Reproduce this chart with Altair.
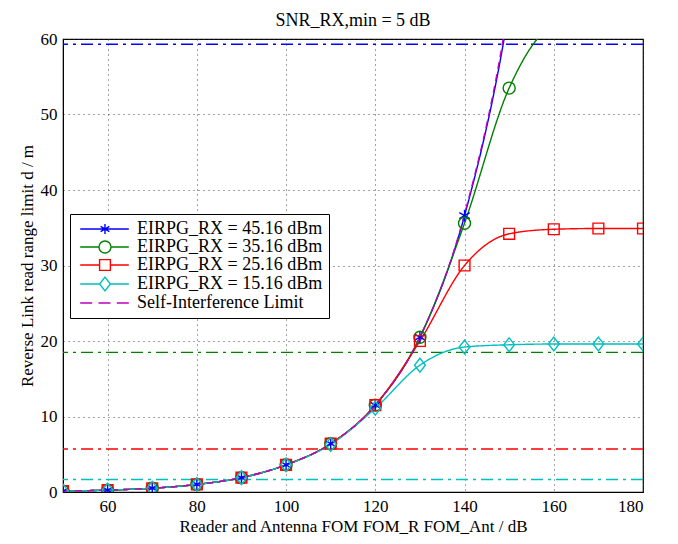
import altair as alt
import pandas as pd

# ---- data ----
fom = [50, 60, 70, 80, 90, 100, 110, 120, 130, 140, 150, 160, 170, 180]
d_45 = [0.12, 0.25, 0.5, 1.0, 1.9, 3.6, 6.4, 11.5, 20.5, 36.6, 64.0, 110.0, 190.0, 300.0]
d_35 = [0.12, 0.25, 0.5, 1.0, 1.9, 3.6, 6.4, 11.5, 20.5, 35.6, 53.5, 61.8, 63.0, 63.2]
d_25 = [0.12, 0.25, 0.5, 1.0, 1.9, 3.6, 6.4, 11.5, 20.0, 30.0, 34.2, 34.8, 34.9, 34.9]
d_15 = [0.12, 0.25, 0.5, 1.0, 1.9, 3.6, 6.3, 11.1, 16.8, 19.2, 19.5, 19.6, 19.6, 19.6]
d_si = [0.12, 0.25, 0.5, 1.0, 1.9, 3.6, 6.4, 11.5, 20.5, 36.8, 65.0, 115.0, 205.0, 365.0]

series = [
    "EIRPG_RX = 45.16 dBm",
    "EIRPG_RX = 35.16 dBm",
    "EIRPG_RX = 25.16 dBm",
    "EIRPG_RX = 15.16 dBm",
    "Self-Interference Limit",
]
colors = ["#0000ff", "#008000", "#ff0000", "#00bfbf", "#bf00bf"]
limits = [59.3, 18.5, 5.7, 1.65]

rows = []
for name, vals in zip(series, [d_45, d_35, d_25, d_15, d_si]):
    for f, v in zip(fom, vals):
        rows.append({"series": name, "fom": f, "d": v})
df = pd.DataFrame(rows)
lim_df = pd.DataFrame({"series": series[:4], "limit": limits})

# marker shapes (chart) and legend glyphs (line + marker)
mark_paths = [
    "M0,-1L0,1M-0.87,-0.5L0.87,0.5M-0.87,0.5L0.87,-0.5",
    "M1,0A1,1 0 1,1 -1,0A1,1 0 1,1 1,0",
    "M-0.9,-0.9H0.9V0.9H-0.9Z",
    "M0,-1.15L0.9,0L0,1.15L-0.9,0Z",
    "M0,0",
]
legend_paths = [
    "M-0.8,0L7.3,0M3.33,-0.85L3.33,0.85M2.6,-0.42L4.06,0.42M2.6,0.42L4.06,-0.42",
    "M-0.8,0L2.33,0M4.33,0L7.3,0M4.33,0A1,1 0 1,1 2.33,0A1,1 0 1,1 4.33,0",
    "M-0.8,0L2.43,0M4.23,0L7.3,0M2.43,-0.9H4.23V0.9H2.43Z",
    "M-0.8,0L2.43,0M4.23,0L7.3,0M3.33,-1.15L4.23,0L3.33,1.15L2.43,0Z",
    "M-0.8,0L1.2,0M2.25,0L4.25,0M5.3,0L7.3,0",
]

x_enc = alt.X("fom:Q", scale=alt.Scale(domain=[50, 180], nice=False),
              axis=alt.Axis(values=[60, 80, 100, 120, 140, 160, 180],
                            title="Reader and Antenna FOM  FOM_R FOM_Ant / dB"))
y_enc = alt.Y("d:Q", scale=alt.Scale(domain=[0, 60], nice=False),
              axis=alt.Axis(values=[0, 10, 20, 30, 40, 50, 60],
                            title="Reverse Link read range limit d / m"))
color_scale = alt.Scale(domain=series, range=colors)

lines = alt.Chart(df).mark_line(clip=True, interpolate="monotone", strokeWidth=1.4).encode(
    x=x_enc, y=y_enc,
    color=alt.Color("series:N", scale=color_scale, legend=None, sort=series),
    strokeDash=alt.StrokeDash("series:N", scale=alt.Scale(
        domain=series, range=[[1, 0], [1, 0], [1, 0], [1, 0], [7, 5]]), legend=None),
)

points = alt.Chart(df).transform_filter(
    alt.datum.series != "Self-Interference Limit"
).mark_point(clip=True, filled=False, size=144, strokeWidth=1.4, opacity=1).encode(
    x=x_enc, y=y_enc,
    color=alt.Color("series:N", scale=color_scale, legend=None),
    shape=alt.Shape("series:N", scale=alt.Scale(domain=series, range=mark_paths), legend=None),
)

rules = alt.Chart(lim_df).mark_rule(strokeWidth=1.4, strokeDash=[12, 5, 3, 5]).encode(
    y=alt.Y("limit:Q", scale=alt.Scale(domain=[0, 60], nice=False)),
    color=alt.Color("series:N", scale=color_scale, legend=None),
)

legend_layer = alt.Chart(df).transform_filter("datum.d < -1000").mark_point(
    filled=False, size=144, strokeWidth=1.4, opacity=1
).encode(
    x=x_enc, y=y_enc,
    color=alt.Color("series:N", scale=color_scale, legend=alt.Legend(
        title=None, orient="none", legendX=7, legendY=175,
        symbolSize=144, symbolStrokeWidth=1.4, labelOffset=43,
        labelFont="Liberation Serif", labelFontSize=18, labelColor="black",
        fillColor="white", strokeColor="black", padding=6, rowPadding=0,
        labelLimit=400)),
    shape=alt.Shape("series:N", scale=alt.Scale(domain=series, range=legend_paths),
                    legend=alt.Legend(title=None, orient="none", legendX=7, legendY=175)),
)

chart = alt.layer(rules, lines, points, legend_layer).resolve_scale(
    color="independent", shape="independent"
).properties(
    width=580, height=453,
    title=alt.TitleParams("SNR_RX,min = 5 dB", font="Liberation Serif", fontSize=18,
                          fontWeight="normal", color="black", offset=0),
    padding={"left": 10, "top": 4, "right": 5, "bottom": 0},
).configure_view(stroke="black", strokeWidth=1.2).configure_axis(
    labelFont="Liberation Serif", labelFontSize=17, labelColor="black",
    titleFont="Liberation Serif", titleFontSize=17, titleFontWeight="normal", titleColor="black",
    grid=True, gridDash=[1, 4], gridColor="#333333", gridOpacity=0.9, gridWidth=1,
    domainColor="black", tickSize=0, labelPadding=6, titlePadding=4,
)

chart.save("out.html", embed_options={"renderer": "svg", "actions": False})
